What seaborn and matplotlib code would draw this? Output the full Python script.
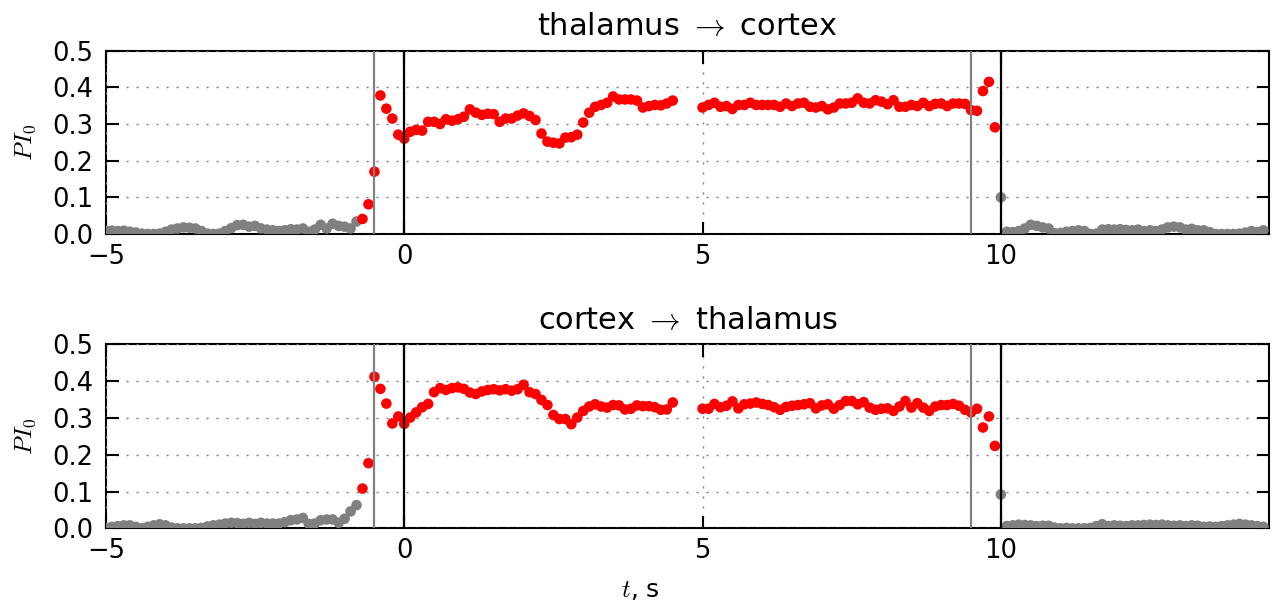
import numpy as np
import pandas as pd
import matplotlib
matplotlib.use("Agg")
import matplotlib.pyplot as plt
import seaborn as sns

# ---- data (PI_0 sampled every 0.1 s) ----
titles = ["thalamus $\\rightarrow$ cortex", "cortex $\\rightarrow$ thalamus"]
xticks = [-5, 0, 5, 10]
yticks = [0.0, 0.1, 0.2, 0.3, 0.4, 0.5]

# segment start times (s)
start_pre, start_on1, start_on2, start_post = -5.0, -0.7, 5.0, 10.0

tc_pre = [0.008, 0.009, 0.008, 0.009, 0.006, 0.004, 0.001, 0.000, 0.000, 0.001,
          0.006, 0.012, 0.015, 0.018, 0.017, 0.015, 0.008, 0.001, 0.000, 0.001,
          0.008, 0.016, 0.024, 0.025, 0.020, 0.022, 0.015, 0.012, 0.010, 0.008,
          0.010, 0.013, 0.012, 0.015, 0.006, 0.012, 0.025, 0.015, 0.028, 0.022,
          0.020, 0.015, 0.034]
tc_on1 = [0.041, 0.081, 0.170, 0.378, 0.342, 0.315, 0.271, 0.260,
          0.279, 0.284, 0.282, 0.306, 0.306, 0.300, 0.313, 0.309, 0.313, 0.320,
          0.340, 0.331, 0.325, 0.328, 0.327, 0.306, 0.315, 0.315, 0.323, 0.329,
          0.322, 0.311, 0.274, 0.252, 0.249, 0.247, 0.263, 0.264, 0.271, 0.304,
          0.331, 0.347, 0.352, 0.358, 0.375, 0.367, 0.367, 0.367, 0.364, 0.345,
          0.349, 0.352, 0.351, 0.356, 0.364]
tc_on2 = [0.345, 0.352, 0.358, 0.347, 0.349, 0.341, 0.352, 0.352, 0.358, 0.352,
          0.352, 0.352, 0.352, 0.347, 0.356, 0.349, 0.356, 0.358, 0.347, 0.345,
          0.349, 0.340, 0.345, 0.356, 0.356, 0.358, 0.370, 0.358, 0.356, 0.365,
          0.361, 0.354, 0.365, 0.347, 0.347, 0.352, 0.349, 0.358, 0.349, 0.355,
          0.356, 0.349, 0.356, 0.356, 0.355, 0.338, 0.336, 0.390, 0.415, 0.291]
tc_post = [0.100, 0.006, 0.005, 0.008, 0.015, 0.025, 0.022, 0.018, 0.015, 0.002,
           0.003, 0.006, 0.008, 0.010, 0.008, 0.000, 0.001, 0.012, 0.013, 0.012,
           0.013, 0.011, 0.010, 0.012, 0.008, 0.010, 0.008, 0.012, 0.018, 0.020,
           0.018, 0.012, 0.014, 0.010, 0.010, 0.005, 0.000, 0.000, 0.000, 0.000,
           0.001, 0.004, 0.008, 0.005, 0.010]

ct_pre = [0.001, 0.004, 0.006, 0.008, 0.008, 0.004, 0.000, 0.004, 0.008, 0.011,
          0.008, 0.002, 0.000, 0.000, 0.000, 0.000, 0.001, 0.005, 0.008, 0.010,
          0.013, 0.015, 0.014, 0.012, 0.015, 0.012, 0.015, 0.013, 0.013, 0.013,
          0.017, 0.022, 0.024, 0.028, 0.012, 0.013, 0.022, 0.024, 0.024, 0.015,
          0.026, 0.046, 0.063]
ct_on1 = [0.108, 0.177, 0.412, 0.379, 0.339, 0.285, 0.304, 0.284,
          0.301, 0.315, 0.329, 0.338, 0.370, 0.381, 0.376, 0.381, 0.383, 0.379,
          0.369, 0.365, 0.372, 0.376, 0.378, 0.375, 0.378, 0.374, 0.378, 0.390,
          0.370, 0.365, 0.349, 0.335, 0.308, 0.297, 0.297, 0.283, 0.301, 0.319,
          0.331, 0.337, 0.331, 0.328, 0.335, 0.334, 0.323, 0.325, 0.334, 0.332,
          0.332, 0.329, 0.322, 0.323, 0.342]
ct_on2 = [0.325, 0.325, 0.338, 0.329, 0.333, 0.345, 0.326, 0.337, 0.339, 0.342,
          0.338, 0.335, 0.329, 0.322, 0.330, 0.333, 0.335, 0.337, 0.340, 0.326,
          0.334, 0.337, 0.325, 0.335, 0.346, 0.346, 0.337, 0.343, 0.328, 0.322,
          0.325, 0.326, 0.319, 0.331, 0.346, 0.328, 0.340, 0.328, 0.319, 0.331,
          0.335, 0.335, 0.338, 0.333, 0.322, 0.315, 0.325, 0.274, 0.304, 0.224]
ct_post = [0.092, 0.006, 0.008, 0.010, 0.009, 0.008, 0.006, 0.007, 0.007, 0.002,
           0.000, 0.001, 0.000, 0.000, 0.000, 0.001, 0.006, 0.011, 0.006, 0.008,
           0.007, 0.006, 0.008, 0.008, 0.009, 0.010, 0.009, 0.010, 0.008, 0.007,
           0.008, 0.006, 0.008, 0.007, 0.004, 0.005, 0.004, 0.006, 0.008, 0.010,
           0.012, 0.010, 0.008, 0.006, 0.004]

stim_gray = [-0.5, 9.5]
stim_black = [0.0, 10.0]


def build(pre, on1, on2, post):
    rows = []
    for start, vals, kind in [(start_pre, pre, "off"), (start_on1, on1, "on"),
                              (start_on2, on2, "on"), (start_post, post, "off")]:
        for i, v in enumerate(vals):
            rows.append((round(start + 0.1 * i, 1), v, kind))
    return pd.DataFrame(rows, columns=["t", "PI", "kind"])


frames = [build(tc_pre, tc_on1, tc_on2, tc_post),
          build(ct_pre, ct_on1, ct_on2, ct_post)]

plt.rcParams.update({
    "font.family": "DejaVu Sans",
    "mathtext.fontset": "cm",
    "axes.linewidth": 1.5,
})

fig = plt.figure(figsize=(12.81, 6.06), dpi=100)
positions = [[0.0827, 0.6139, 0.9082, 0.3024], [0.0827, 0.1282, 0.9082, 0.3036]]
palette = {"off": "#808080", "on": "#ff0000"}

for pos, df, title in zip(positions, frames, titles):
    ax = fig.add_axes(pos)
    sns.scatterplot(data=df, x="t", y="PI", hue="kind", palette=palette,
                    s=58, linewidth=0, legend=False, ax=ax, zorder=3)
    for xv in stim_gray:
        ax.axvline(xv, color="#808080", lw=1.6, zorder=4)
    for xv in stim_black:
        ax.axvline(xv, color="black", lw=1.6, zorder=4)
    ax.set_xlim(-5, 14.5)
    ax.set_ylim(0, 0.5)
    ax.set_xticks(xticks)
    ax.set_yticks(yticks)
    ax.set_yticklabels([f"{v:.1f}" for v in yticks])
    ax.grid(True, color="#808080", lw=1.0, linestyle=(0, (1.5, 5.7)), zorder=5)
    ax.set_axisbelow(False)
    ax.tick_params(direction="in", top=True, right=True, length=9, width=1.5,
                   labelsize=18.5, zorder=6)
    ax.tick_params(axis="x", pad=7)
    ax.tick_params(axis="y", pad=9)
    ax.set_title(title, fontsize=22, pad=11)
    ax.set_ylabel("$PI_0$", fontsize=18)
    ax.set_xlabel("")
    ax.yaxis.set_label_coords(-0.058, 0.5)

fig.text(0.5, 0.026, "$t$, s", ha="center", va="center", fontsize=18)
fig.savefig("out.png", dpi=100)
